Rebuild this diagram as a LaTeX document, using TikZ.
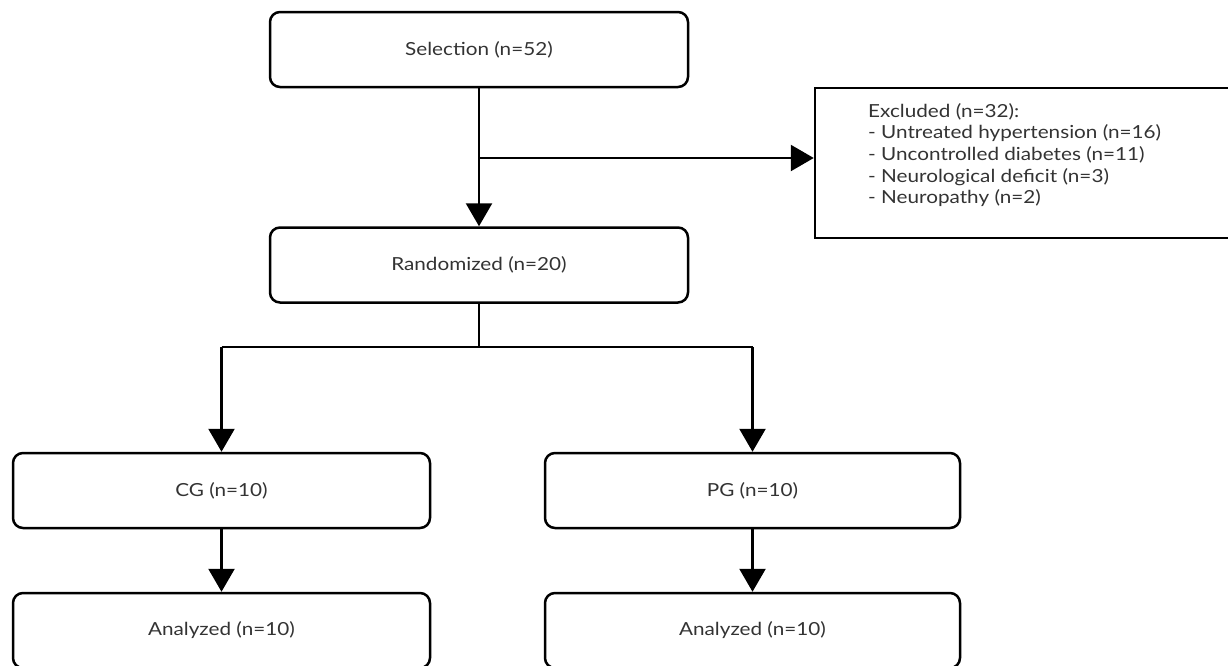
\documentclass[tikz,border=0pt]{standalone}
\usepackage{fontspec}
\setmainfont{Lato}
\newfontfamily\boxfont{Lato}[FakeStretch=1.15]
\usetikzlibrary{arrows.meta}
\definecolor{txt}{HTML}{333333}
\begin{document}
\begin{tikzpicture}[x=1pt,y=-1pt,
  box/.style={draw=black,line width=2.5pt,rounded corners=10pt,minimum width=418pt,minimum height=75pt,inner sep=0pt,text=txt,font=\boxfont\fontsize{18}{21}\selectfont},
  conn/.style={line width=2.5pt,draw=black},
  arr/.style={conn,-{Triangle[length=23pt,width=26pt]}}]
\useasboundingbox (0,0) rectangle (1228,665);
\node[box] (sel) at (479,49.5) {Selection (n=52)};
\node[box] (rand) at (479,265) {Randomized (n=20)};
\node[box,minimum width=417pt] (cg) at (221.5,490.5) {CG (n=10)};
\node[box,minimum width=415pt] (pg) at (752.5,490.5) {PG (n=10)};
\node[box,minimum width=417pt] (an1) at (221.5,630.5) {Analyzed (n=10)};
\node[box,minimum width=415pt] (an2) at (752.5,630.5) {Analyzed (n=10)};
\node[draw=black,line width=2.5pt,minimum width=425pt,minimum height=150pt,inner sep=0pt] (exc) at (1027.5,163) {};
\node[anchor=west,align=left,text=txt,inner sep=0pt,font=\boxfont\fontsize{18}{21.7}\selectfont] (exctext) at (868,155) {Excluded (n=32):\\- Untreated hypertension (n=16)\\- Uncontrolled diabetes (n=11)\\- Neurological deficit (n=3)\\- Neuropathy (n=2)};
\coordinate (junc) at (479,158);
\coordinate (split) at (479,347);
\draw[arr] (sel.south) -- (rand.north);
\draw[arr] (junc) -- (junc -| exc.west);
\draw[conn] (rand.south) -- (split);
\draw[conn] (cg.north |- split) -- (pg.north |- split);
\draw[arr] (cg.north |- split) -- (cg.north);
\draw[arr] (pg.north |- split) -- (pg.north);
\draw[arr] (cg.south) -- (an1.north);
\draw[arr] (pg.south) -- (an2.north);
\end{tikzpicture}
\end{document}
